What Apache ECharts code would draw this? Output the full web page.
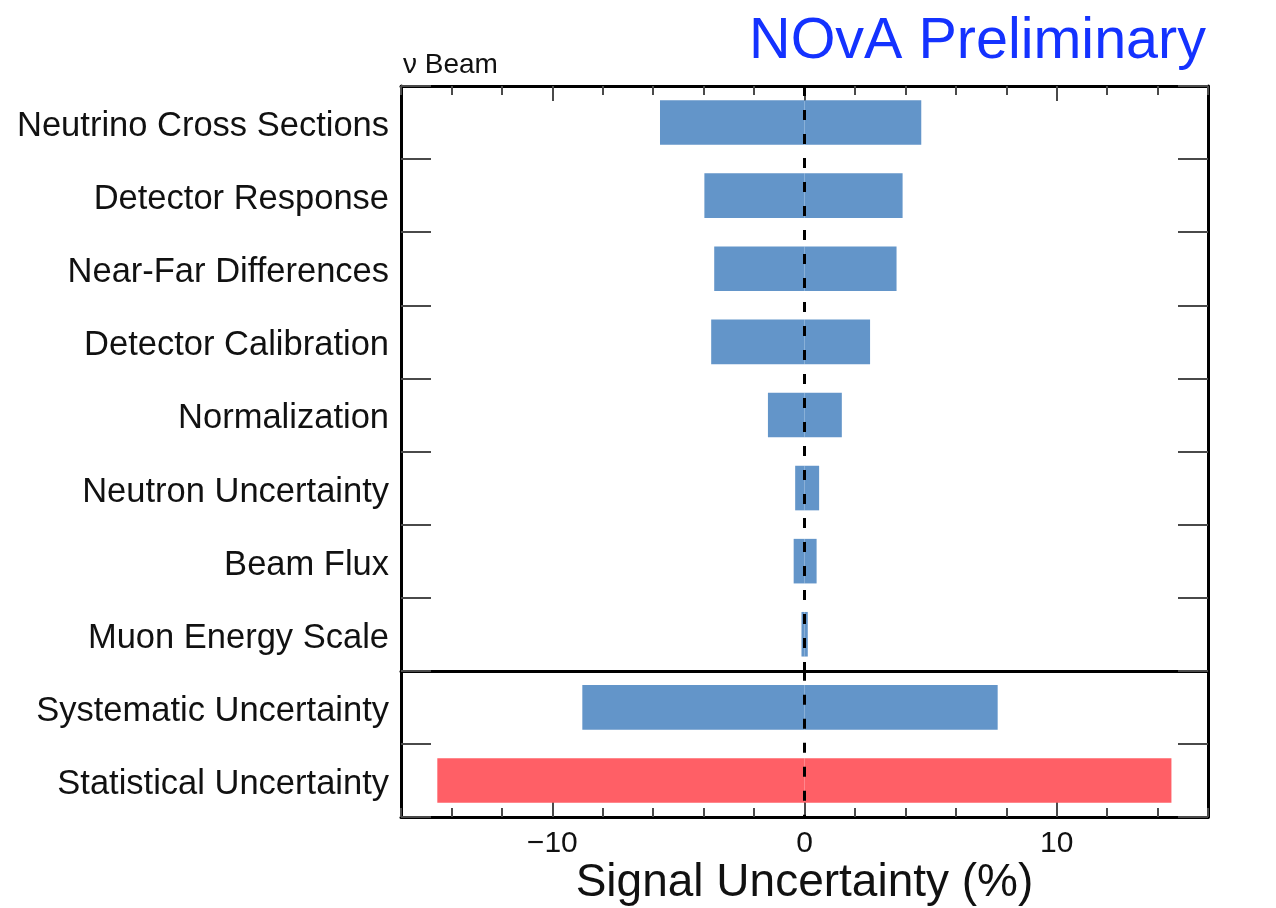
<!DOCTYPE html>
<html>
<head>
<meta charset="utf-8">
<script src="https://cdn.jsdelivr.net/npm/echarts@6/dist/echarts.min.js"></script>
<style>
html,body{margin:0;padding:0;background:#fff;}
#chart{width:1276px;height:908px;}
</style>
</head>
<body>
<div id="chart"></div>
<script>
// ---- data ----
const categories = [
  'Neutrino Cross Sections',
  'Detector Response',
  'Near-Far Differences',
  'Detector Calibration',
  'Normalization',
  'Neutron Uncertainty',
  'Beam Flux',
  'Muon Energy Scale',
  'Systematic Uncertainty',
  'Statistical Uncertainty'
];
const lowValues  = [-5.73, -3.97, -3.58, -3.70, -1.45, -0.37, -0.43, -0.12, -8.81, -14.56];
const highValues = [ 4.63,  3.89,  3.65,  2.60,  1.48,  0.58,  0.48,  0.13,  7.66,  14.55];
const majorTicks = [-10, 0, 10];
const splitAt = 8; // first category of the lower panel

// ---- layout / styles ----
const W = 1276, H = 908;
const PLOT_TOP = 86, PLOT_BOTTOM = 817, PLOT_LEFT = 401, PLOT_RIGHT = 1208;
const rowH = (PLOT_BOTTOM - PLOT_TOP) / categories.length;
const SEP_Y = PLOT_TOP + rowH * splitAt;

const BLUE = '#6395c9';
const RED = '#ff5f66';
const FONT = '"Liberation Sans", Arial, Helvetica, sans-serif';
const TICK = '#4a4a4a';

const chart = echarts.init(document.getElementById('chart'));

function barColor(p) {
  return p.name === 'Statistical Uncertainty' ? RED : BLUE;
}
function fmt(v) {
  if (v % 10 !== 0) return '';
  return v < 0 ? '\u2212' + Math.abs(v) : String(v);
}

const upperCats = categories.slice(0, splitAt);
const lowerCats = categories.slice(splitAt);

function xAxisDef(gridIndex, position, major, withLabels) {
  const ax = {
    type: 'value', min: -16, max: 16, interval: 2,
    gridIndex: gridIndex, position: position,
    axisLine: { show: !major, onZero: false, lineStyle: { color: '#000', width: 3 } },
    splitLine: { show: false },
    axisTick: { show: true, inside: true, length: major ? 15 : 9, lineStyle: { color: TICK, width: 2 } },
    axisLabel: { show: false }
  };
  if (major) ax.axisTick.customValues = majorTicks;
  if (withLabels) {
    ax.axisLabel = { show: true, formatter: fmt, fontSize: 30, color: '#111', margin: 12, fontFamily: FONT };
    ax.name = 'Signal Uncertainty (%)';
    ax.nameLocation = 'middle';
    ax.nameGap = 38;
    ax.nameTextStyle = { fontSize: 46, color: '#111', fontFamily: FONT };
  }
  return ax;
}

function yAxisDef(gridIndex, cats, position, withLabels) {
  return {
    type: 'category', data: cats, inverse: true, position: position, gridIndex: gridIndex,
    axisLine: { show: true, onZero: false, lineStyle: { color: '#000', width: 3 } },
    axisTick: { show: true, inside: true, length: 30, lineStyle: { color: TICK, width: 2 } },
    axisLabel: withLabels
      ? { show: true, fontSize: 34.5, color: '#111', margin: 12, fontFamily: FONT,
          verticalAlign: 'top', lineHeight: 8 }
      : { show: false },
    splitLine: { show: false }
  };
}

function barSeries(xi, yi, data, withLine) {
  const s = {
    type: 'bar', data: data,
    xAxisIndex: xi, yAxisIndex: yi,
    barWidth: '61%', barGap: '-100%',
    itemStyle: { color: barColor },
    silent: true
  };
  if (withLine) {
    s.markLine = {
      silent: true,
      symbol: ['none', 'none'],
      label: { show: false },
      lineStyle: { color: '#000', width: 3, type: [10, 14] },
      data: [{ xAxis: 0 }],
      z: 10
    };
  }
  return s;
}

chart.setOption({
  animation: false,
  backgroundColor: '#fff',
  textStyle: { fontFamily: FONT },
  title: [
    {
      text: 'NOvA Preliminary',
      right: 65, top: 8,
      textStyle: { fontSize: 57.5, fontWeight: 'normal', color: '#1432ff', fontFamily: FONT }
    },
    {
      text: '\u03bd Beam',
      left: 398, top: 46,
      textStyle: { fontSize: 28, fontWeight: 'normal', color: '#111', fontFamily: FONT }
    }
  ],
  grid: [
    { left: PLOT_LEFT, right: W - PLOT_RIGHT, top: PLOT_TOP, bottom: H - SEP_Y, show: false },
    { left: PLOT_LEFT, right: W - PLOT_RIGHT, top: SEP_Y, bottom: H - PLOT_BOTTOM, show: false }
  ],
  xAxis: [
    xAxisDef(0, 'top', false, false),
    xAxisDef(0, 'top', true, false),
    xAxisDef(1, 'bottom', false, true),
    xAxisDef(1, 'bottom', true, false),
    // line separating the two panels (bottom edge of the upper panel)
    {
      type: 'value', min: -16, max: 16, interval: 2, gridIndex: 0, position: 'bottom',
      axisLine: { show: true, onZero: false, lineStyle: { color: '#000', width: 3 } },
      axisTick: { show: false }, axisLabel: { show: false }, splitLine: { show: false }
    }
  ],
  yAxis: [
    yAxisDef(0, upperCats, 'left', true),
    yAxisDef(0, upperCats, 'right', false),
    yAxisDef(1, lowerCats, 'left', true),
    yAxisDef(1, lowerCats, 'right', false)
  ],
  series: [
    barSeries(0, 0, lowValues.slice(0, splitAt), false),
    barSeries(0, 0, highValues.slice(0, splitAt), true),
    barSeries(2, 2, lowValues.slice(splitAt), false),
    barSeries(2, 2, highValues.slice(splitAt), true)
  ]
});
</script>
</body>
</html>
